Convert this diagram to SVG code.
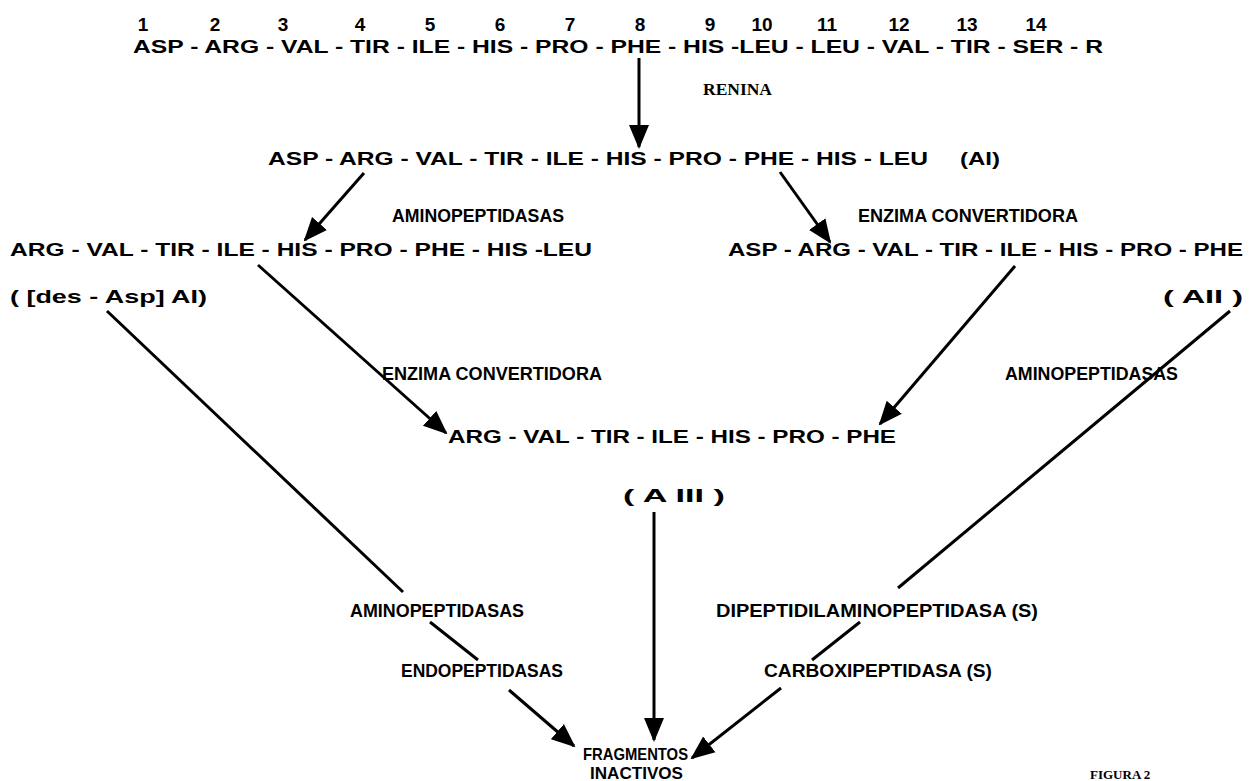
<svg xmlns="http://www.w3.org/2000/svg" width="1255" height="781" viewBox="0 0 1255 781">
<defs>
<style>
text{font-family:"Liberation Sans","DejaVu Sans",sans-serif;font-weight:bold;font-size:19px;fill:#000}
.num{text-anchor:middle}
.fig{font-family:"Liberation Serif",serif;font-size:13px}
.ser{font-family:"Liberation Serif",serif;font-size:16px}
.frag{font-size:16.5px}
.ln{stroke:#000;stroke-width:3;fill:none}
</style>
<marker id="ah" markerUnits="userSpaceOnUse" markerWidth="24" markerHeight="22" viewBox="0 0 24 22" refX="22" refY="11" orient="auto">
<path d="M0,1 L24,11 L0,21 Z" fill="#000"/>
</marker>
</defs>
<rect width="1255" height="781" fill="#fff"/>
<g id="numbers">
<text class="num" x="143" y="31">1</text>
<text class="num" x="215" y="31">2</text>
<text class="num" x="283" y="31">3</text>
<text class="num" x="360" y="31">4</text>
<text class="num" x="430" y="31">5</text>
<text class="num" x="500" y="31">6</text>
<text class="num" x="570" y="31">7</text>
<text class="num" x="640" y="31">8</text>
<text class="num" x="710" y="31">9</text>
<text class="num" x="762" y="31">10</text>
<text class="num" x="827" y="31">11</text>
<text class="num" x="899" y="31">12</text>
<text class="num" x="967" y="31">13</text>
<text class="num" x="1036" y="31">14</text>
</g>
<g id="angiotensinogen"><text x="133" y="53" textLength="970" lengthAdjust="spacingAndGlyphs">ASP - ARG - VAL - TIR - ILE - HIS - PRO - PHE - HIS -LEU - LEU - VAL - TIR - SER - R</text></g>
<g id="renina"><text class="ser" x="703" y="95" textLength="69" lengthAdjust="spacingAndGlyphs">RENINA</text></g>
<g id="ai"><text x="268" y="165" textLength="660" lengthAdjust="spacingAndGlyphs">ASP - ARG - VAL - TIR - ILE - HIS - PRO - PHE - HIS - LEU</text><text x="960" y="165" textLength="40" lengthAdjust="spacingAndGlyphs">(AI)</text></g>
<g id="lbl-amino1"><text x="392" y="222" textLength="172" lengthAdjust="spacingAndGlyphs">AMINOPEPTIDASAS</text></g>
<g id="lbl-enz1"><text x="858" y="222" textLength="220" lengthAdjust="spacingAndGlyphs">ENZIMA CONVERTIDORA</text></g>
<g id="desasp"><text x="10" y="256" textLength="582" lengthAdjust="spacingAndGlyphs">ARG - VAL - TIR - ILE - HIS - PRO - PHE - HIS -LEU</text><text x="10" y="303" textLength="197" lengthAdjust="spacingAndGlyphs">( [des - Asp] AI)</text></g>
<g id="aii"><text x="728" y="256" textLength="515" lengthAdjust="spacingAndGlyphs">ASP - ARG - VAL - TIR - ILE - HIS - PRO - PHE</text><text x="1163" y="303" textLength="80" lengthAdjust="spacingAndGlyphs">( AII )</text></g>
<g id="lbl-enz2"><text x="382" y="380" textLength="220" lengthAdjust="spacingAndGlyphs">ENZIMA CONVERTIDORA</text></g>
<g id="lbl-amino2"><text x="1005" y="380" textLength="173" lengthAdjust="spacingAndGlyphs">AMINOPEPTIDASAS</text></g>
<g id="aiii"><text x="448" y="443" textLength="448" lengthAdjust="spacingAndGlyphs">ARG - VAL - TIR - ILE - HIS - PRO - PHE</text><text x="623" y="502" textLength="102" lengthAdjust="spacingAndGlyphs">( A III )</text></g>
<g id="lbl-amino3"><text x="350" y="617" textLength="174" lengthAdjust="spacingAndGlyphs">AMINOPEPTIDASAS</text></g>
<g id="lbl-dipep"><text x="716" y="617" textLength="322" lengthAdjust="spacingAndGlyphs">DIPEPTIDILAMINOPEPTIDASA (S)</text></g>
<g id="lbl-endo"><text x="401" y="677" textLength="162" lengthAdjust="spacingAndGlyphs">ENDOPEPTIDASAS</text></g>
<g id="lbl-carbox"><text x="764" y="677" textLength="228" lengthAdjust="spacingAndGlyphs">CARBOXIPEPTIDASA (S)</text></g>
<g id="fragmentos"><text class="frag" x="583" y="760" textLength="105" lengthAdjust="spacingAndGlyphs">FRAGMENTOS</text><text class="frag" x="590" y="779" textLength="93" lengthAdjust="spacingAndGlyphs">INACTIVOS</text></g>
<g id="figura"><text class="fig" x="1090" y="779">FIGURA 2</text></g>
<g id="connectors">
<line class="ln" x1="639" y1="58" x2="639" y2="147" marker-end="url(#ah)"/>
<line class="ln" x1="364" y1="173" x2="305" y2="240" marker-end="url(#ah)"/>
<line class="ln" x1="780" y1="172" x2="830" y2="242" marker-end="url(#ah)"/>
<line class="ln" x1="107" y1="311" x2="403" y2="592"/>
<line class="ln" x1="258" y1="265" x2="446" y2="433" marker-end="url(#ah)"/>
<line class="ln" x1="1015" y1="266" x2="880" y2="424" marker-end="url(#ah)"/>
<line class="ln" x1="1230" y1="311" x2="898" y2="588"/>
<line class="ln" x1="654" y1="512" x2="654" y2="740" marker-end="url(#ah)"/>
<line class="ln" x1="430" y1="622" x2="478" y2="660"/>
<line class="ln" x1="860" y1="622" x2="812" y2="660"/>
<line class="ln" x1="509" y1="690" x2="574" y2="746" marker-end="url(#ah)"/>
<line class="ln" x1="781" y1="688" x2="692" y2="758" marker-end="url(#ah)"/>
</g>
</svg>
